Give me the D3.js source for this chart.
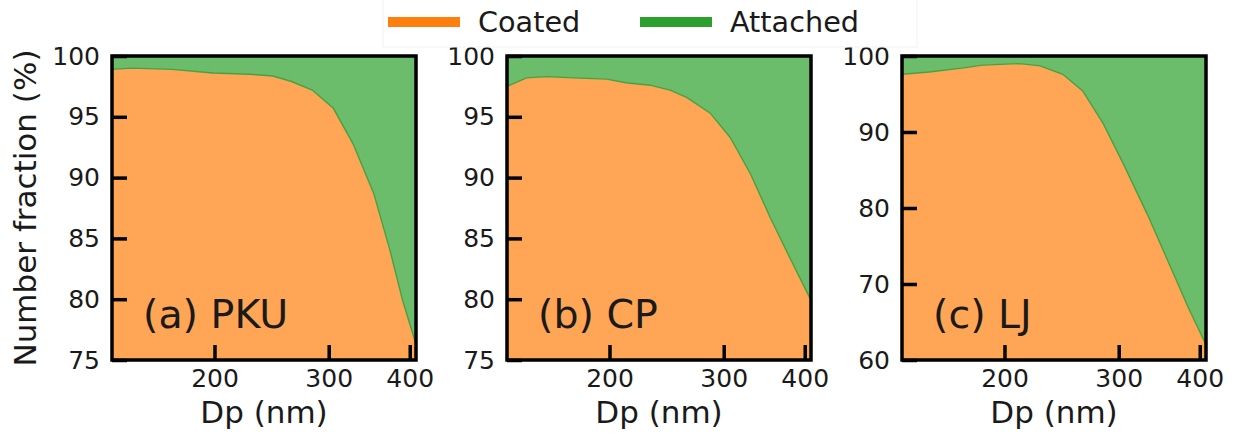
<!DOCTYPE html>
<html>
<head>
<meta charset="utf-8">
<script src="https://cdn.jsdelivr.net/npm/d3@7"></script>
<style>
body { margin: 0; background: #fff; }
text { font-family: "DejaVu Sans", sans-serif; fill: #1a1a1a; }
</style>
</head>
<body>
<script>
// Coated vs attached number fraction, three sites

var seriesNames = ["Coated", "Attached"];
var panelLabels = ["(a) PKU", "(b) CP", "(c) LJ"];
var xTicks = [200, 300, 400];
var yTicksA = [75, 80, 85, 90, 95, 100];
var yTicksB = [75, 80, 85, 90, 95, 100];
var yTicksC = [60, 70, 80, 90, 100];

var dpA = [139, 149, 172, 199, 227, 246, 263, 283, 305, 327, 352, 373, 390, 409];
var coatedA = [98.9, 99.0, 98.9, 98.6, 98.5, 98.35, 97.9, 97.2, 95.7, 92.8, 88.7, 84.0, 79.9, 76.3];

var dpB = [139, 149, 160, 176, 198, 212, 231, 248, 263, 286, 307, 330, 354, 381, 409];
var coatedB = [97.5, 98.2, 98.3, 98.2, 98.1, 97.8, 97.6, 97.2, 96.6, 95.3, 93.3, 90.3, 86.7, 83.2, 79.9];

var dpC = [139, 153, 172, 185, 211, 227, 246, 264, 284, 305, 332, 357, 384, 409];
var coatedC = [97.6, 97.9, 98.4, 98.8, 99.0, 98.7, 97.6, 95.4, 91.1, 85.8, 79.2, 73.1, 66.9, 62.0];

var panels = [
    { label: panelLabels[0], dp: dpA, coated: coatedA, yDomain: [75, 100], yTicks: yTicksA },
    { label: panelLabels[1], dp: dpB, coated: coatedB, yDomain: [75, 100], yTicks: yTicksB },
    { label: panelLabels[2], dp: dpC, coated: coatedC, yDomain: [60, 100], yTicks: yTicksC }
];

var width = 1239;
var height = 439;
var panelLefts = [112, 507, 902];
var pw = 304;
var ph = 304;
var plotTop = 56;

var colors = { Coated: "#ff7f0e", Attached: "#2ca02c" };
var fills = { Coated: "#ffa556", Attached: "#6bbc6b" };

var svg = d3.select("body").append("svg")
    .attr("width", width)
    .attr("height", height);

var x = d3.scaleLog().domain([139, 409]).range([0, pw]);

panels.forEach(function (p, k) {
    var g = svg.append("g")
        .attr("transform", `translate(${panelLefts[k]} ${plotTop})`);

    var y = d3.scaleLinear().domain(p.yDomain).range([ph, 0]);

    var rows = p.dp.map(function (d, i) {
        return { dp: d, coated: p.coated[i] };
    });

    var coatedArea = d3.area()
        .x(function (d) { return x(d.dp); })
        .y0(ph)
        .y1(function (d) { return y(d.coated); });

    var attachedArea = d3.area()
        .x(function (d) { return x(d.dp); })
        .y0(function (d) { return y(d.coated); })
        .y1(y(100));

    g.append("path").datum(rows)
        .attr("d", coatedArea)
        .attr("fill", fills.Coated);

    g.append("path").datum(rows)
        .attr("d", attachedArea)
        .attr("fill", fills.Attached);

    g.append("path").datum(rows)
        .attr("d", d3.line().x(function (d) { return x(d.dp); }).y(function (d) { return y(d.coated); }))
        .attr("fill", "none")
        .attr("stroke", "#4aa040")
        .attr("stroke-width", 1.4);

    // inward ticks like matplotlib direction='in'
    var yAxis = g.append("g")
        .call(d3.axisLeft(y).tickValues(p.yTicks).tickSize(-15).tickPadding(12).tickFormat(d3.format("d")));
    var xAxis = g.append("g")
        .attr("transform", `translate(0 ${ph})`)
        .call(d3.axisBottom(x).tickValues(xTicks).tickSize(-15).tickPadding(6).tickFormat(d3.format("d")));

    [yAxis, xAxis].forEach(function (a) {
        a.attr("font-size", 25).attr("font-family", null);
        a.select(".domain").remove();
        a.selectAll(".tick line").attr("stroke", "#000").attr("stroke-width", 3.5);
        a.selectAll(".tick text").attr("fill", "#1a1a1a");
    });
    xAxis.selectAll(".tick text").attr("y", 8).attr("dy", "0.76em");

    g.append("rect")
        .attr("width", pw)
        .attr("height", ph)
        .attr("fill", "none")
        .attr("stroke", "#000")
        .attr("stroke-width", 3.5);

    g.append("text")
        .attr("x", 31)
        .attr("y", 272)
        .attr("font-size", 39.5)
        .text(p.label);

    g.append("text")
        .attr("x", pw / 2)
        .attr("y", 367)
        .attr("text-anchor", "middle")
        .attr("font-size", 31)
        .text("Dp (nm)");
});

svg.append("text")
    .attr("transform", "translate(36 208) rotate(-90)")
    .attr("text-anchor", "middle")
    .attr("font-size", 31)
    .text("Number fraction (%)");

// legend
var legend = svg.append("g");
legend.append("rect")
    .attr("x", 383).attr("y", -4)
    .attr("width", 534).attr("height", 51)
    .attr("fill", "#fff")
    .attr("stroke", "#f2f2f2");

var legendX = [388, 640];
seriesNames.forEach(function (s, i) {
    legend.append("rect")
        .attr("x", legendX[i]).attr("y", 17)
        .attr("width", 72).attr("height", 10)
        .attr("fill", colors[s]);
    legend.append("text")
        .attr("x", legendX[i] + 90)
        .attr("y", 32)
        .attr("font-size", 28.7)
        .text(s);
});
</script>
</body>
</html>
